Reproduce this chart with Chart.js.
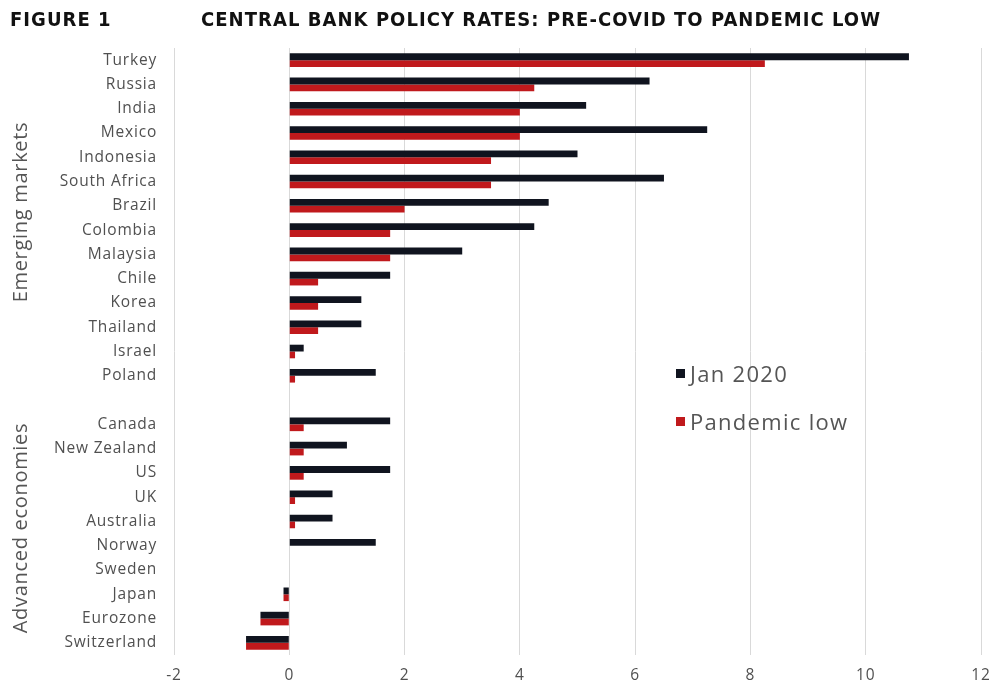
<!DOCTYPE html>
<html>
<head>
<meta charset="utf-8">
<script src="https://cdn.jsdelivr.net/npm/chart.js@4/dist/chart.umd.min.js"></script>
<style>
  html, body { margin: 0; padding: 0; background: #fff; }
  #wrap { position: relative; width: 989px; height: 685px; overflow: hidden; }
  #c { position: absolute; left: 0; top: 0; }
  .hdr { position: absolute; top: 7px; font-family: "DejaVu Sans Condensed", "DejaVu Sans", sans-serif; font-weight: bold; font-size: 20px; color: #111; letter-spacing: 1.05px; }
  .grp { position: absolute; font-family: "Open Sans", sans-serif; font-size: 20px; letter-spacing: 0.7px; color: #555; white-space: nowrap; transform: translate(-50%, -50%) rotate(-90deg); }
  #legend { position: absolute; left: 676px; top: 349px; font-family: "Open Sans", sans-serif; font-size: 22px; letter-spacing: 1.3px; color: #555; }
  #legend .item { display: flex; align-items: center; height: 48px; }
  #legend .sw { width: 9px; height: 9px; margin-right: 5px; }
</style>
</head>
<body>
<div id="wrap">
  <canvas id="c" width="989" height="685"></canvas>
  <div class="hdr" style="left:10px;">FIGURE 1</div>
  <div class="hdr" style="left:201px;">CENTRAL BANK POLICY RATES: PRE-COVID TO PANDEMIC LOW</div>
  <div class="grp" id="g1">Emerging markets</div>
  <div class="grp" id="g2">Advanced economies</div>
  <div id="legend"></div>
</div>
<script>
const categories = ["Turkey","Russia","India","Mexico","Indonesia","South Africa","Brazil","Colombia","Malaysia","Chile","Korea","Thailand","Israel","Poland","","Canada","New Zealand","US","UK","Australia","Norway","Sweden","Japan","Eurozone","Switzerland"];
const jan2020 =      [10.75, 6.25, 5.15, 7.25, 5.0, 6.5, 4.5, 4.25, 3.0, 1.75, 1.25, 1.25, 0.25, 1.5, null, 1.75, 1.0, 1.75, 0.75, 0.75, 1.5, 0, -0.1, -0.5, -0.75];
const pandemicLow =  [8.25, 4.25, 4.0, 4.0, 3.5, 3.5, 2.0, 1.75, 1.75, 0.5, 0.5, 0.5, 0.1, 0.1, null, 0.25, 0.25, 0.25, 0.1, 0.1, 0, 0, -0.1, -0.5, -0.75];
const seriesNames = ["Jan 2020", "Pandemic low"];
const seriesColors = ["#10141f", "#c0191c"];
const groups = [
  { label: "Emerging markets", from: "Turkey", to: "Poland", el: "g1" },
  { label: "Advanced economies", from: "Canada", to: "Switzerland", el: "g2" }
];

const spacingPlugin = {
  id: 'letterSpacing',
  beforeUpdate(chart) { chart.ctx.letterSpacing = '0.8px'; },
  beforeDraw(chart) { chart.ctx.letterSpacing = '0.8px'; }
};

const groupPlugin = {
  id: 'groupLabels',
  afterRender(chart) {
    const y = chart.scales.y;
    groups.forEach(g => {
      const a = y.getPixelForValue(categories.indexOf(g.from));
      const b = y.getPixelForValue(categories.indexOf(g.to));
      const el = document.getElementById(g.el);
      el.style.left = '19px';
      el.style.top = ((a + b) / 2 - 6) + 'px';
    });
  }
};

const tickFont = { family: 'Open Sans', size: 15.5 };

const chart = new Chart(document.getElementById('c'), {
  type: 'bar',
  data: {
    labels: categories,
    datasets: [
      { label: seriesNames[0], data: jan2020, backgroundColor: seriesColors[0], categoryPercentage: 0.56, barPercentage: 1.0 },
      { label: seriesNames[1], data: pandemicLow, backgroundColor: seriesColors[1], categoryPercentage: 0.56, barPercentage: 1.0 }
    ]
  },
  options: {
    indexAxis: 'y',
    responsive: false,
    animation: false,
    layout: { padding: { top: 48, left: 0, right: 0, bottom: 0 } },
    plugins: { legend: { display: false }, tooltip: { enabled: false } },
    scales: {
      x: {
        min: -2, max: 12,
        afterFit(s) { s.height = 30; s.paddingRight = 8; },
        ticks: { stepSize: 2, padding: 11, color: '#505050', font: tickFont },
        grid: { color: '#d9d9d9', lineWidth: 1, drawTicks: false },
        border: { display: false }
      },
      y: {
        afterFit(s) { s.width = 174; },
        ticks: { padding: 17, color: '#505050', font: tickFont, autoSkip: false },
        grid: { display: false, drawTicks: false },
        border: { display: false }
      }
    }
  },
  plugins: [spacingPlugin, groupPlugin]
});

const leg = document.getElementById('legend');
chart.data.datasets.forEach(ds => {
  const it = document.createElement('div');
  it.className = 'item';
  const sw = document.createElement('span');
  sw.className = 'sw';
  sw.style.background = ds.backgroundColor;
  const tx = document.createElement('span');
  tx.textContent = ds.label;
  it.appendChild(sw); it.appendChild(tx);
  leg.appendChild(it);
});
</script>
</body>
</html>
